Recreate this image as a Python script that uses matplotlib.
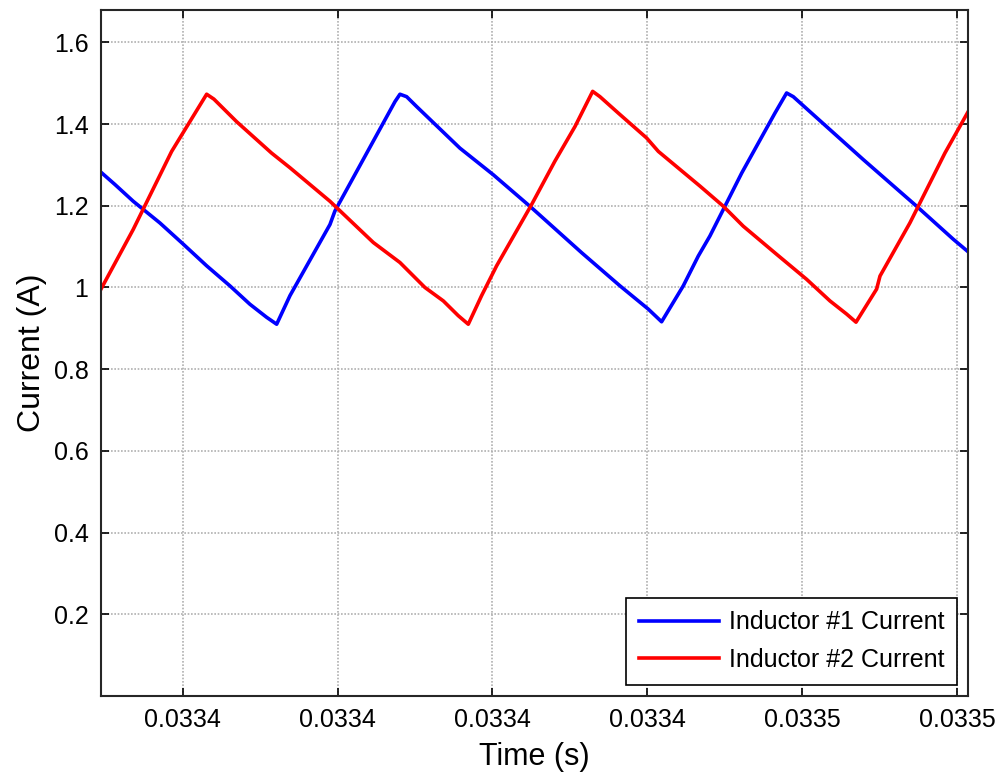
import numpy as np
import matplotlib
matplotlib.use("Agg")
import matplotlib.pyplot as plt

plt.rcParams['font.family'] = ['Liberation Sans', 'DejaVu Sans']

# time in microseconds, current in amps
t_l1 = [33404.73, 33405.63, 33406.81, 33408.53, 33410.04, 33411.55, 33413.05,
        33414.34, 33415.42, 33416.07, 33416.93, 33419.51, 33419.83, 33421.77,
        33423.71, 33424.03, 33424.46, 33425.10, 33427.90, 33430.05, 33432.53,
        33435.76, 33438.23, 33440.06, 33440.92, 33442.32, 33443.29, 33444.04,
        33446.09, 33448.24, 33448.99, 33449.42, 33450.71, 33453.94, 33457.38,
        33459.75, 33460.72]
i_l1 = [1.282, 1.252, 1.211, 1.158, 1.106, 1.053, 1.004,
        0.959, 0.927, 0.910, 0.980, 1.154, 1.187, 1.321,
        1.455, 1.473, 1.467, 1.443, 1.341, 1.276, 1.195,
        1.085, 1.004, 0.947, 0.916, 1.004, 1.077, 1.126,
        1.280, 1.427, 1.476, 1.467, 1.423, 1.313, 1.199,
        1.118, 1.087]

t_l2 = [33404.73, 33406.81, 33409.29, 33411.55, 33412.02, 33413.48, 33415.74,
        33416.93, 33419.51, 33422.31, 33424.03, 33425.64, 33426.83, 33427.79,
        33428.44, 33429.30, 33430.27, 33432.53, 33434.03, 33435.33, 33436.47,
        33436.94, 33438.12, 33439.95, 33440.71, 33443.40, 33444.90, 33446.19,
        33448.35, 33450.28, 33451.79, 33452.86, 33453.47, 33454.80, 33455.02,
        33456.95, 33459.21, 33460.72]
i_l2 = [0.996, 1.142, 1.333, 1.473, 1.461, 1.406, 1.329,
        1.293, 1.211, 1.110, 1.061, 1.000, 0.967, 0.931,
        0.910, 0.980, 1.053, 1.203, 1.309, 1.394, 1.480,
        1.467, 1.427, 1.366, 1.333, 1.248, 1.199, 1.150,
        1.081, 1.020, 0.967, 0.935, 0.915, 0.996, 1.028,
        1.158, 1.329, 1.431]

xticks_us = [33410, 33420, 33430, 33440, 33450, 33460]
xtick_labels = ['0.0334', '0.0334', '0.0334', '0.0334', '0.0335', '0.0335']
yticks = [0.2, 0.4, 0.6, 0.8, 1.0, 1.2, 1.4, 1.6]
ytick_labels = ['0.2', '0.4', '0.6', '0.8', '1', '1.2', '1.4', '1.6']

t1 = np.array(t_l1) * 1e-6
t2 = np.array(t_l2) * 1e-6

fig = plt.figure(figsize=(10, 7.75), dpi=100)
ax = fig.add_axes([0.101, 0.102, 0.867, 0.885])

ax.plot(t1, i_l1, color='#0000ff', lw=2.6, label='Inductor #1 Current')
ax.plot(t2, i_l2, color='#ff0000', lw=2.6, label='Inductor #2 Current')

ax.set_xlim(33404.73e-6, 33460.70e-6)
ax.set_ylim(0, 1.679)
ax.set_xticks(np.array(xticks_us) * 1e-6)
ax.set_xticklabels(xtick_labels)
ax.set_yticks(yticks)
ax.set_yticklabels(ytick_labels)

ax.grid(True, linestyle=(0, (1, 1)), color='#b0b0b0', lw=1.2)
ax.tick_params(direction='in', length=6, width=1.2, top=True, right=True,
               labelsize=18, colors='#000000', pad=9)
for s in ax.spines.values():
    s.set_linewidth(1.5)
    s.set_color('#262626')

ax.set_xlabel('Time (s)', fontsize=22, labelpad=7)
ax.set_ylabel('Current (A)', fontsize=23, labelpad=5)

leg = ax.legend(loc='lower right', fontsize=18, handlelength=3.2,
                handletextpad=0.4, borderaxespad=0.45, borderpad=0.5,
                labelspacing=0.55, fancybox=False, framealpha=1)
leg.get_frame().set_edgecolor('#000000')
leg.get_frame().set_linewidth(1.2)

fig.savefig('out.png', dpi=100)
